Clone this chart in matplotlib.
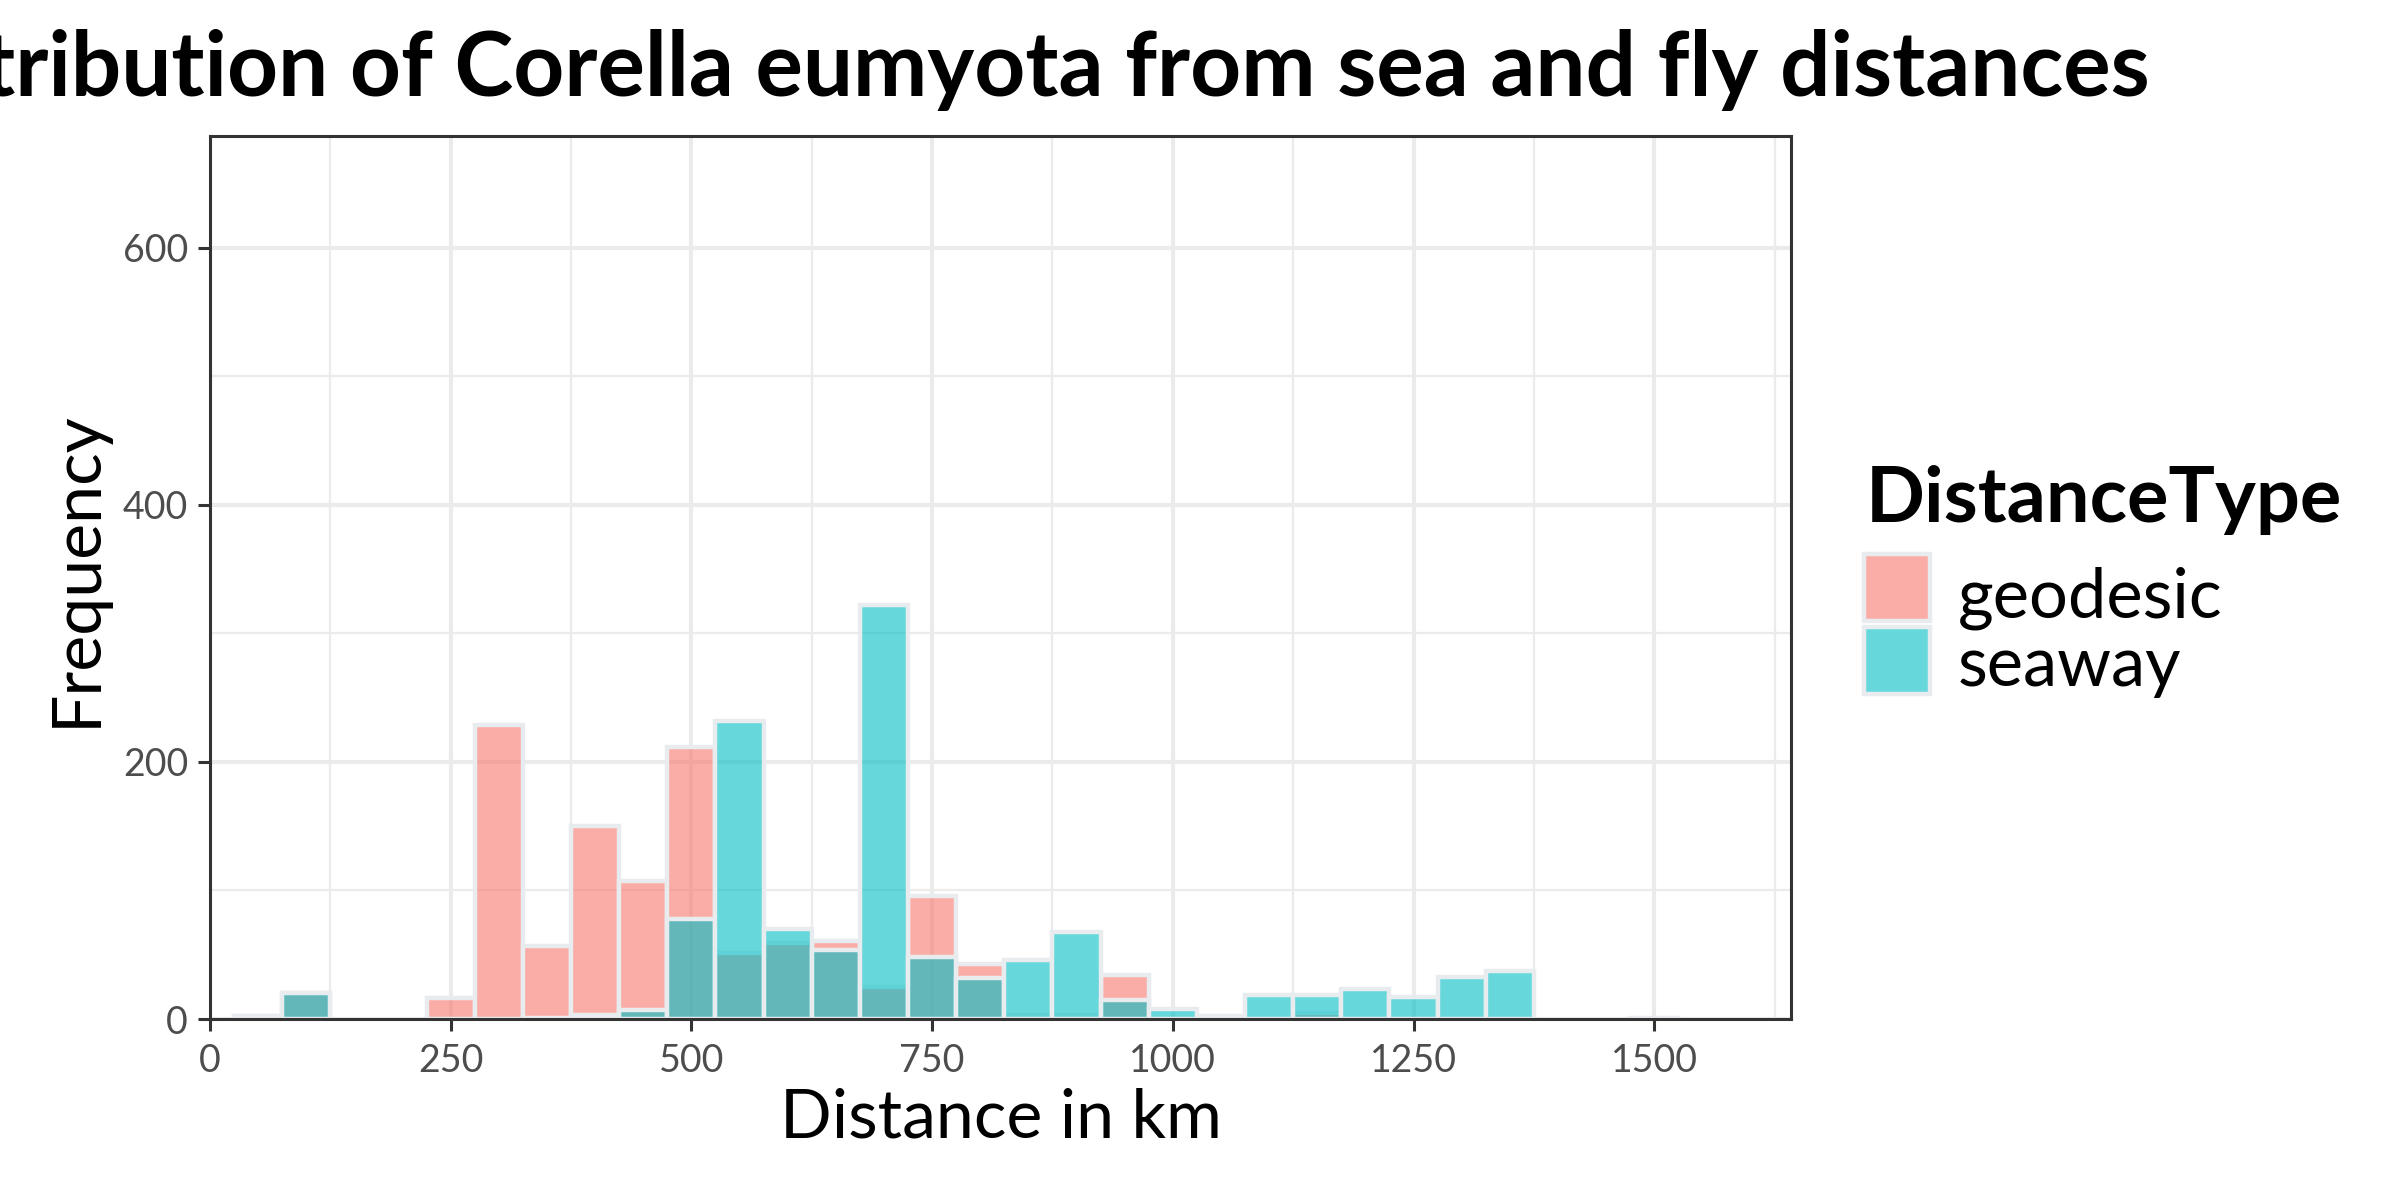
import matplotlib
matplotlib.use("Agg")
import matplotlib.pyplot as plt
from matplotlib.patches import Rectangle
from matplotlib.colors import to_rgba
import numpy as np

# ---------------- data ----------------
bin_centers = [50, 100, 150, 200, 250, 300, 350, 400, 450, 500, 550, 600, 650, 700, 750,
               800, 850, 900, 950, 1000, 1050, 1100, 1150, 1200, 1250, 1300, 1350, 1400, 1450, 1500]
geodesic = [2, 20, 0, 0, 16, 229, 57, 150, 107, 212, 51, 59, 61, 25, 96,
            43, 3, 3, 34, 0, 0, 0, 5, 0, 0, 0, 0, 0, 0, 0]
seaway = [2, 20, 0, 0, 0, 0, 1, 3, 7, 78, 232, 70, 54, 322, 48,
          32, 46, 68, 15, 8, 2, 19, 19, 23, 17, 33, 37, 0, 0, 1]
series_names = ["geodesic", "seaway"]
series_colors = ["#F8766D", "#00BFC4"]
bin_width = 50

title = "Distribution of Corella eumyota from sea and fly distances"
x_label = "Distance in km"
y_label = "Frequency"
legend_title = "DistanceType"
x_ticks = [0, 250, 500, 750, 1000, 1250, 1500]
x_minor = [125, 375, 625, 875, 1125, 1375, 1625]
y_ticks = [0, 200, 400, 600]
y_minor = [100, 300, 500]

# ---------------- style ----------------
plt.rcParams["font.family"] = ["Lato", "DejaVu Sans"]
W, H, DPI = 2400, 1200, 200
edge_col = "#E9ECEF"
grid_col = "#EBEBEB"
dark = "#333333"
alpha = 0.6


def fx(px):
    return px / W


def fy(py):
    return 1 - py / H


fig = plt.figure(figsize=(W / DPI, H / DPI), dpi=DPI)
ax = fig.add_axes([fx(210), fy(1019), fx(1791) - fx(210), fy(136) - fy(1019)])
ax.set_xlim(0, 1642)
ax.set_ylim(0, 687)

ax.set_xticks(x_ticks)
ax.set_xticks(x_minor, minor=True)
ax.set_yticks(y_ticks)
ax.set_yticks(y_minor, minor=True)
ax.grid(which="major", color=grid_col, linewidth=1.5, zorder=0)
ax.grid(which="minor", color=grid_col, linewidth=0.8, zorder=0)
ax.set_axisbelow(True)
ax.tick_params(which="minor", length=0)
ax.tick_params(which="major", length=4.3, width=1.1, color=dark,
               labelsize=13.5, labelcolor="#4D4D4D")
ax.tick_params(axis="x", pad=4.3)
ax.tick_params(axis="y", pad=3.6)
for s in ax.spines.values():
    s.set_color(dark)
    s.set_linewidth(1.1)
    s.set_zorder(5)

centers = np.array(bin_centers)
for name, vals, col in zip(series_names, [geodesic, seaway], series_colors):
    v = np.array(vals)
    m = v > 0
    ax.bar(centers[m], v[m], width=bin_width, facecolor=to_rgba(col, alpha),
           edgecolor=edge_col, linewidth=1.6, zorder=2, label=name)

# titles (the reference title runs past the left edge of the figure)
fig.text(fx(2150), fy(96), title, ha="right", va="baseline",
         fontsize=32.0, fontweight="bold", color="black")
fig.text((fx(210) + fx(1791)) / 2, fy(1138), x_label, ha="center", va="baseline",
         fontsize=24.5, color="black")
fig.text(fx(77), (fy(136) + fy(1019)) / 2 + 9 / H, y_label, ha="center", va="center",
         rotation=90, fontsize=24.5, color="black")

# legend (ggplot-style)
fig.text(fx(1866), fy(522), legend_title, ha="left", va="baseline",
         fontsize=27.9, fontweight="bold", color="black")
key_tops = [554, 627]
baselines = [617, 686]
for name, col, kt, bl in zip(series_names, series_colors, key_tops, baselines):
    fig.add_artist(Rectangle((fx(1864), fy(kt + 67)), fx(1930) - fx(1864), fy(kt) - fy(kt + 67),
                             transform=fig.transFigure, facecolor=to_rgba(col, alpha),
                             edgecolor=edge_col, linewidth=1.6))
    fig.text(fx(1958), fy(bl), name, ha="left", va="baseline", fontsize=24.7, color="black")

fig.savefig("out.png", dpi=DPI)
